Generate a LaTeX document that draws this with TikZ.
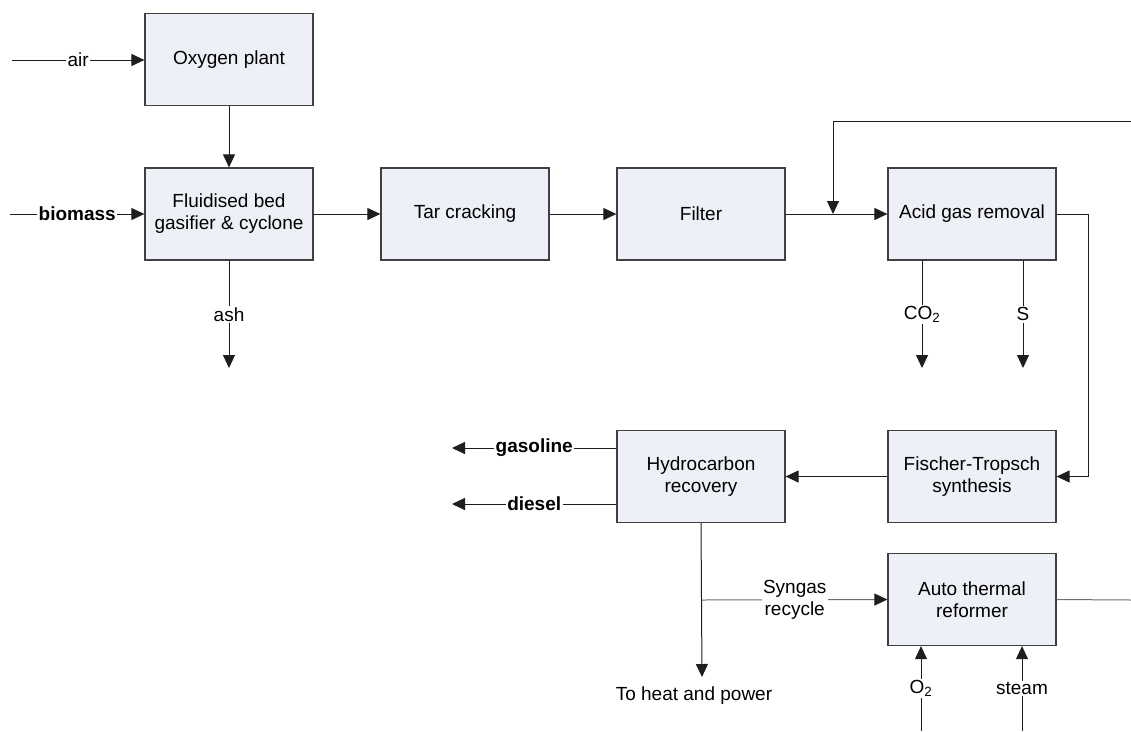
\documentclass[tikz,border=0pt]{standalone}
\usepackage{fontspec}
\setmainfont{Liberation Sans}
\usetikzlibrary{arrows.meta}
\definecolor{boxfill}{RGB}{237,240,246}
\definecolor{boxline}{RGB}{64,64,64}
\definecolor{flow}{RGB}{30,30,30}
\definecolor{recyc}{RGB}{110,110,110}
\begin{document}
\begin{tikzpicture}[x=1pt,y=-1pt,
  font=\fontsize{19}{22}\selectfont,
  unit/.style={draw=boxline,line width=1.2pt,fill=boxfill,minimum width=168pt,
    minimum height=92pt,align=center,inner sep=2pt},
  arr/.style={draw=flow,line width=1pt,-{Triangle[length=13pt,width=12pt,color=flow]}},
  pipe/.style={draw=flow,line width=1pt},
  lbl/.style={fill=white,inner sep=1.5pt},
  lblb/.style={lbl,font=\fontsize{19}{22}\selectfont\bfseries}]
\useasboundingbox (0,0) rectangle (1131,731);

% process units
\node[unit] (oxy)  at (229,59.5)  {Oxygen plant};
\node[unit] (gas)  at (229,214)   {Fluidised bed\\gasifier \& cyclone};
\node[unit] (tar)  at (465,214)   {Tar cracking};
\node[unit] (filt) at (701,214)   {Filter};
\node[unit] (agr)  at (972,214)   {Acid gas removal};
\node[unit] (hcr)  at (701,476.5) {Hydrocarbon\\recovery};
\node[unit] (ft)   at (972,476.5) {Fischer-Tropsch\\synthesis};
\node[unit] (atr)  at (972,599.5) {Auto thermal\\reformer};

% free line ends
\coordinate (airin)   at (12,60);
\coordinate (bioin)   at (10,214);
\coordinate (ashout)  at (229,368);
\coordinate (co2out)  at (922,368);
\coordinate (sout)    at (1023,368);
\coordinate (loopin)  at (1131,121);
\coordinate (jn)      at (833,214);
\coordinate (rt)      at (1088,0);
\coordinate (gasout)  at (452,448);
\coordinate (dslout)  at (452,504);
\coordinate (heat)    at (702,677);
\coordinate (sy)      at (702,600);
\coordinate (atrout)  at (1131,600);
\coordinate (o2in)    at (921,731);
\coordinate (stmin)   at (1022,731);

% feeds
\draw[arr] (airin) -- node[lbl]{air} (oxy.west |- airin);
\draw[arr] (bioin) -- node[lblb]{biomass} (gas.west);
\draw[arr] (oxy.south) -- (gas.north);
\draw[arr] (gas.south) -- node[lbl]{ash} (ashout);

% main gas line
\draw[arr] (gas.east) -- (tar.west);
\draw[arr] (tar.east) -- (filt.west);
\draw[arr] (filt.east) -- (agr.west);
\draw[arr] (loopin) -| (jn);

% acid gas removal products
\draw[arr] (co2out |- agr.south) -- node[lbl]{CO\textsubscript{2}} (co2out);
\draw[arr] (sout |- agr.south) -- node[lbl]{S} (sout);

% synthesis
\draw[arr] (agr.east) -- (agr.east -| rt) |- (ft.east);
\draw[arr] (ft.west) -- (hcr.east);
\draw[arr] (gasout -| hcr.west) -- node[lblb]{gasoline} (gasout);
\draw[arr] (dslout -| hcr.west) -- node[lblb]{diesel} (dslout);
\draw[arr] (hcr.south) -- (heat);
\node (heatlbl) at (694,696) {To heat and power};

% recycle through the reformer
\draw[arr,draw=recyc] (sy) -- node[lbl,align=center]{Syngas\\recycle} (atr.west);
\draw[pipe,draw=recyc] (atr.east) -- (atrout);
\draw[arr] (o2in) -- node[lbl]{O\textsubscript{2}} (o2in |- atr.south);
\draw[arr] (stmin) -- node[lbl]{steam} (stmin |- atr.south);
\end{tikzpicture}
\end{document}
